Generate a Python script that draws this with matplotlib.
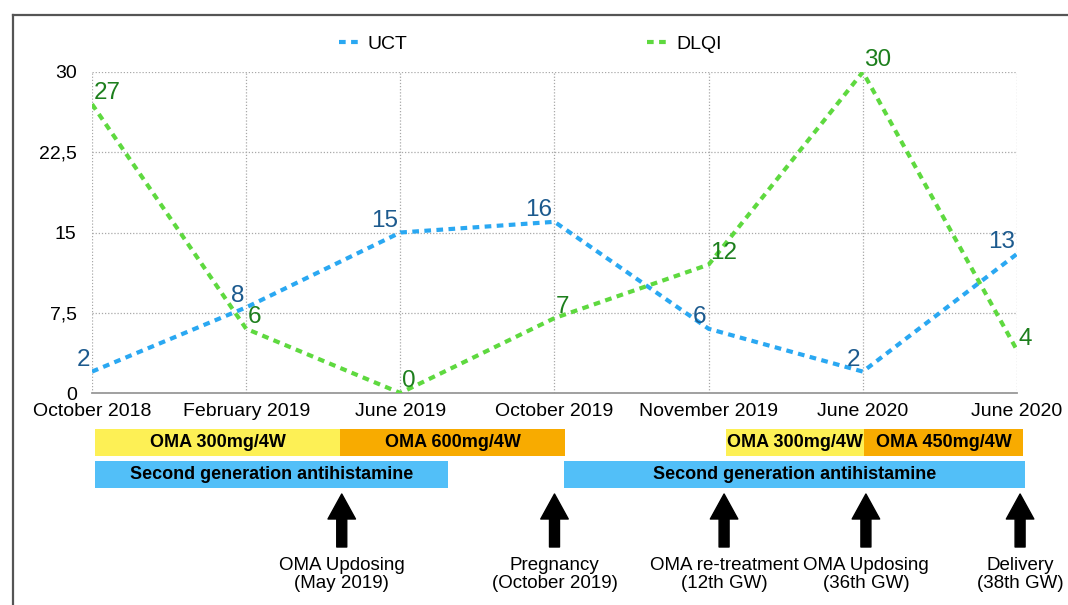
import matplotlib
matplotlib.use("Agg")
import matplotlib.pyplot as plt
from matplotlib.lines import Line2D

plt.rcParams['font.family'] = ['Liberation Sans', 'DejaVu Sans']

# Visit dates and scores
DATES = ["October 2018", "February 2019", "June 2019", "October 2019",
         "November 2019", "June 2020", "June 2020"]
UCT = [2, 8, 15, 16, 6, 2, 13]
DLQI = [27, 6, 0, 7, 12, 30, 4]
Y_TICKS = [0, 7.5, 15, 22.5, 30]
Y_TICK_LABELS = ["0", "7,5", "15", "22,5", "30"]

# Treatment periods, in units of the visit axis
OMA_START = [0.02, 1.61, 4.11, 5.01]
OMA_END = [1.61, 3.07, 5.01, 6.04]
OMA_LABELS = ["OMA 300mg/4W", "OMA 600mg/4W", "OMA 300mg/4W", "OMA 450mg/4W"]
AH_START = [0.02, 3.06]
AH_END = [2.31, 6.05]
AH_LABEL = "Second generation antihistamine"

# Events marked with arrows
EVENT_POS = [1.62, 3.0, 4.1, 5.02, 6.02]
EVENT_LABELS = ["OMA Updosing\n(May 2019)", "Pregnancy\n(October 2019)",
                "OMA re-treatment\n(12th GW)", "OMA Updosing\n(36th GW)",
                "Delivery\n(38th GW)"]

UCT_COLOR = "#2aa8f2"
DLQI_COLOR = "#5ed93f"
UCT_TEXT = "#1c5a8e"
DLQI_TEXT = "#1d7f1d"
DOSE_COLORS = {"300": "#fdf055", "600": "#f8ab00", "450": "#f8ab00"}
AH_COLOR = "#52bff8"

W, H = 1068, 605
fig = plt.figure(figsize=(W / 100, H / 100), dpi=100)

# ---- main line chart ----
ax = fig.add_axes([92 / W, 1 - 393 / H, (1017 - 92) / W, (393 - 72) / H])
x = list(range(len(DATES)))
ax.plot(x, UCT, color=UCT_COLOR, lw=3, dashes=(1.6, 1.3), label="UCT", zorder=3)
ax.plot(x, DLQI, color=DLQI_COLOR, lw=3, dashes=(1.6, 1.3), label="DLQI", zorder=3)

for xi, v in zip(x, UCT):
    ax.annotate(str(v), (xi, v), xytext=(-1.5, 4), textcoords="offset points",
                ha="right", va="baseline", fontsize=17.5, color=UCT_TEXT,
                annotation_clip=False)
for xi, v in zip(x, DLQI):
    ax.annotate(str(v), (xi, v), xytext=(1, 4), textcoords="offset points",
                ha="left", va="baseline", fontsize=17.5, color=DLQI_TEXT,
                annotation_clip=False)

ax.set_xlim(0, 6)
ax.set_ylim(0, 30)
ax.set_xticks(x)
ax.set_xticklabels(DATES, fontsize=14)
ax.set_yticks(Y_TICKS)
ax.set_yticklabels(Y_TICK_LABELS, fontsize=14)
ax.tick_params(axis="both", length=0)
ax.tick_params(axis="x", pad=7)
ax.tick_params(axis="y", pad=11)
ax.grid(True, ls=(0, (1, 1.5)), color="#a8a8a8", lw=0.9)
for side in ["top", "right", "left"]:
    ax.spines[side].set_visible(False)
ax.spines["bottom"].set_color("#999999")
ax.spines["bottom"].set_linewidth(1.3)

fig.legend(loc="center", bbox_to_anchor=(530 / W, 1 - 44 / H), ncol=2,
           frameon=False, fontsize=14, handlelength=1.0, handletextpad=0.5,
           columnspacing=12.3)

# ---- treatment timeline below ----
ax2 = fig.add_axes([92 / W, 0, (1017 - 92) / W, (H - 425) / H])
ax2.set_xlim(0, 6)
ax2.set_ylim(H, 425)
ax2.axis("off")

for s, e, lab in zip(OMA_START, OMA_END, OMA_LABELS):
    col = DOSE_COLORS[lab.split()[1][:3]]
    ax2.barh(442.5, e - s, left=s, height=27, color=col, clip_on=False)
    ax2.text((s + e) / 2, 442.5, lab, ha="center", va="center",
             fontsize=13, fontweight="bold", clip_on=False)
for s, e in zip(AH_START, AH_END):
    ax2.barh(474.5, e - s, left=s, height=27, color=AH_COLOR, clip_on=False)
    ax2.text((s + e) / 2, 474.5, AH_LABEL, ha="center", va="center",
             fontsize=13, fontweight="bold", clip_on=False)

for pos, lab in zip(EVENT_POS, EVENT_LABELS):
    ax2.annotate("", xy=(pos, 494), xytext=(pos, 547),
                 arrowprops=dict(arrowstyle="simple,head_length=0.5,head_width=0.55,tail_width=0.2",
                                 mutation_scale=36, color="black", shrinkA=0, shrinkB=0),
                 annotation_clip=False)
    ax2.text(pos, 557, lab, ha="center", va="top", fontsize=13.5,
             linespacing=1.05, clip_on=False)

# page frame (top and left edges)
fig.add_artist(Line2D([13 / W, 1], [1 - 15 / H] * 2, transform=fig.transFigure,
                      color="#555555", lw=1.6))
fig.add_artist(Line2D([13 / W] * 2, [0, 1 - 15 / H], transform=fig.transFigure,
                      color="#555555", lw=1.6))

fig.savefig("out.png", dpi=100)
